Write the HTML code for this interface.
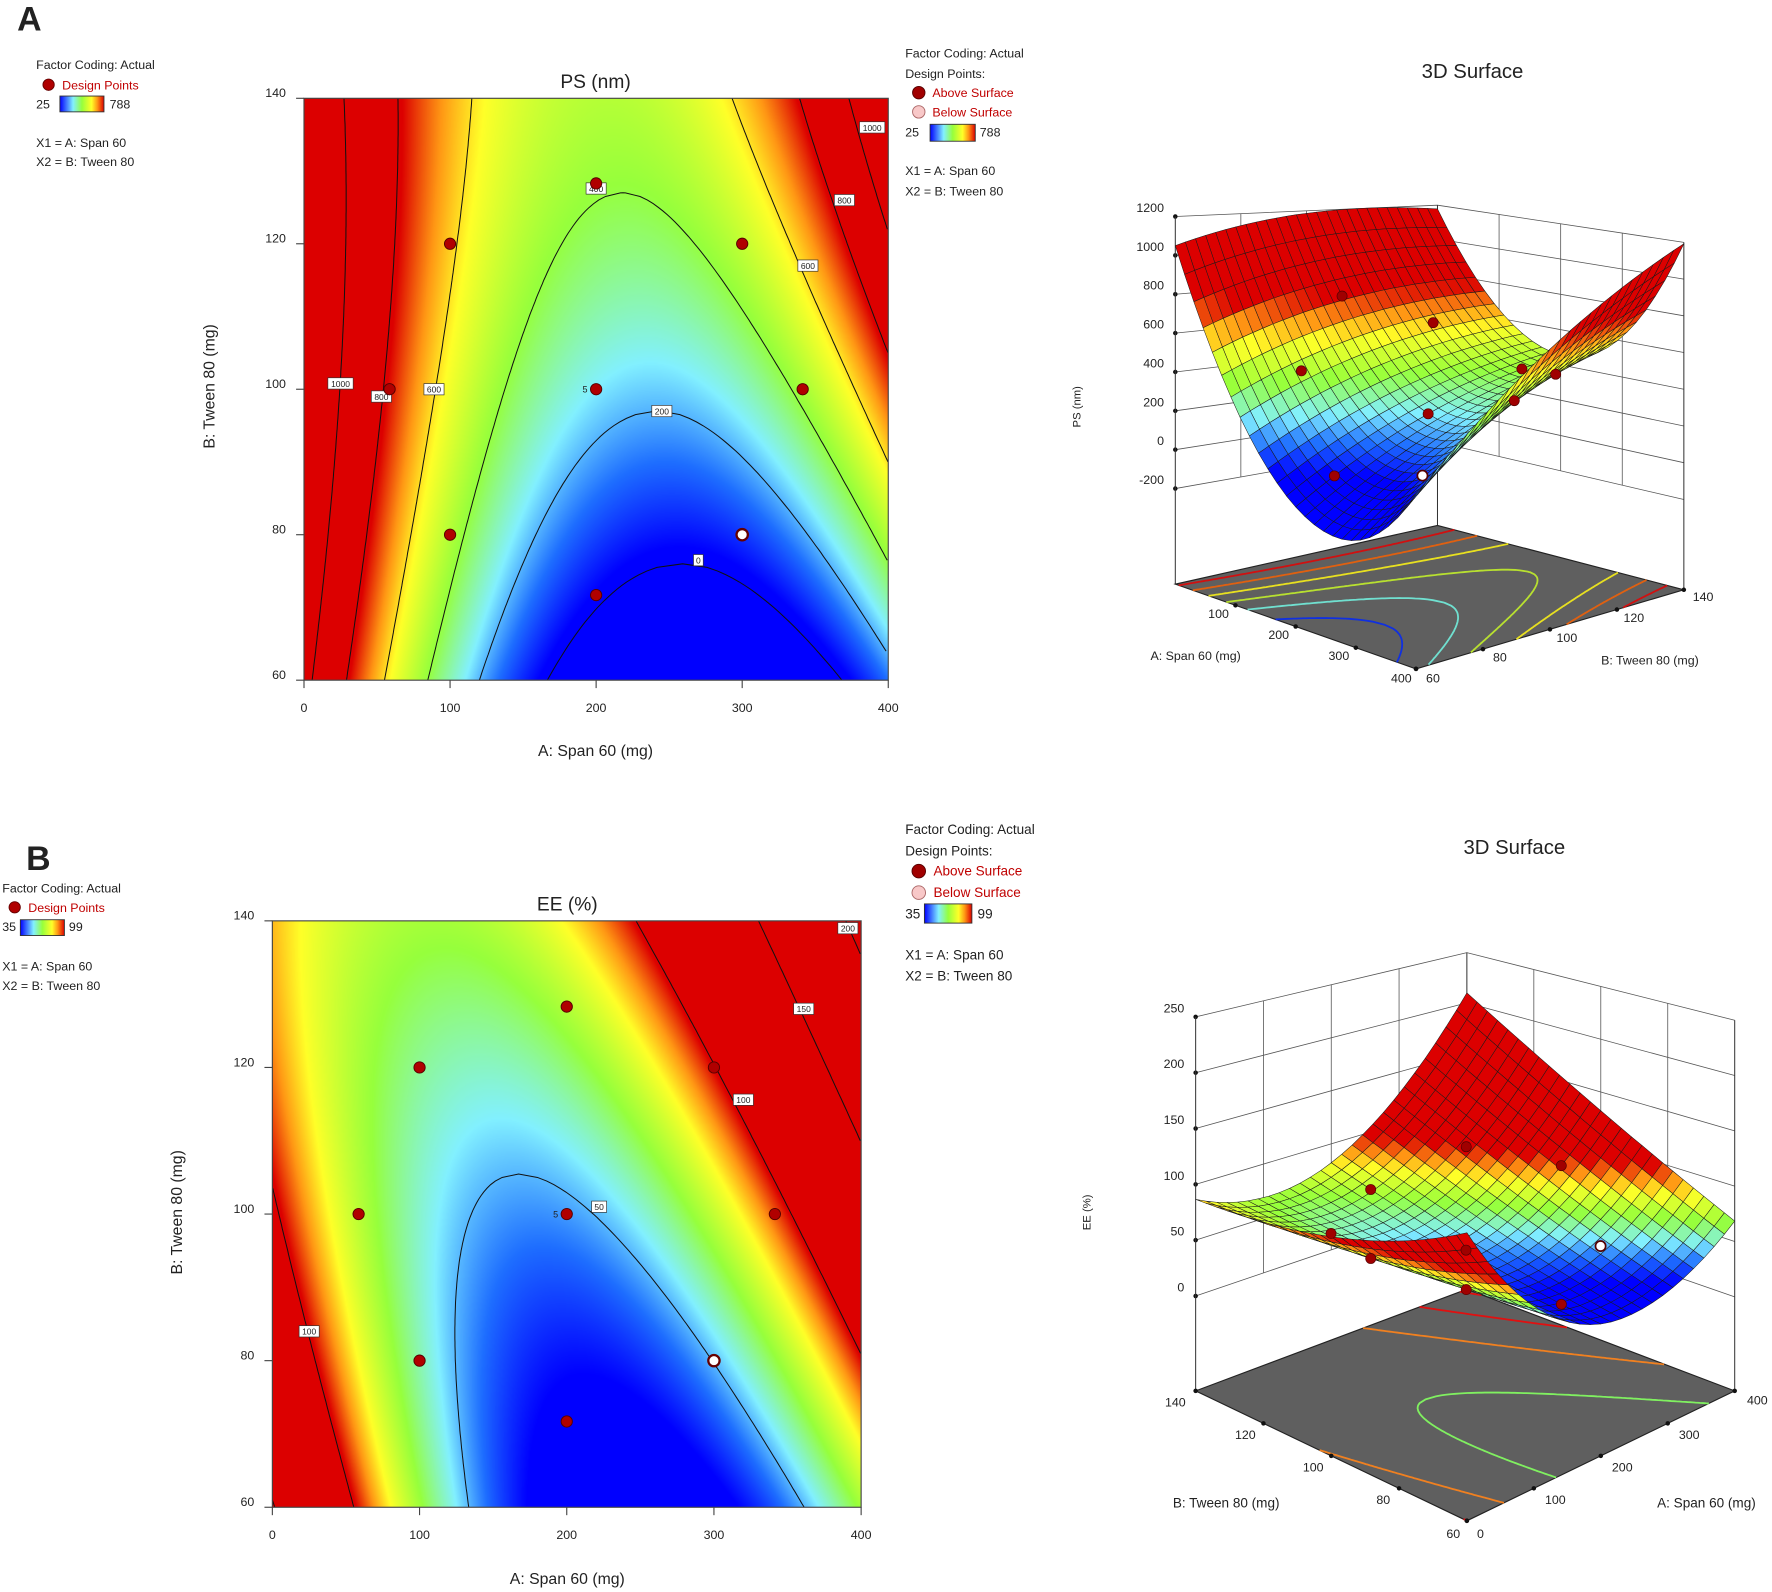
<!DOCTYPE html>
<html><head><meta charset="utf-8">
<style>
html,body{margin:0;padding:0;background:#fff;width:1772px;height:1592px;overflow:hidden}
#root{position:absolute;left:0;top:0;width:1568px;height:1409px;transform:scale(1.13010,1.12988);transform-origin:0 0;font-family:"Liberation Sans",sans-serif}
canvas{position:absolute}
svg{position:absolute;left:0;top:0}
text{font-family:"Liberation Sans",sans-serif;fill:#222}
</style></head>
<body>
<div id="root">
<canvas id="hmA" style="left:269px;top:87px" width="517" height="515"></canvas>
<canvas id="hmB" style="left:241px;top:815px" width="521" height="519"></canvas>
<svg id="svg" width="1568" height="1409" viewBox="0 0 1568 1409">
<defs>
<linearGradient id="cg" x1="0" x2="1" y1="0" y2="0">
<stop offset="0" stop-color="#0000ff"/><stop offset="0.3" stop-color="#82f0ff"/><stop offset="0.5" stop-color="#96ff3c"/><stop offset="0.72" stop-color="#ffff28"/><stop offset="0.85" stop-color="#ff9614"/><stop offset="1" stop-color="#dc0000"/>
</linearGradient>
</defs>
<text x="26" y="27" font-size="30" font-weight="bold" text-anchor="middle">A</text>
<text x="34" y="770" font-size="30" font-weight="bold" text-anchor="middle">B</text>

<g font-size="11">
<text x="32" y="61" font-size="11">Factor Coding: Actual</text>
<circle cx="43" cy="75" r="5" fill="#b00000" stroke="#600" stroke-width="0.8"/>
<text x="55" y="79" font-size="11" style="fill:#c00000">Design Points</text>
<text x="32" y="96" font-size="11">25</text>
<rect x="53" y="85" width="39" height="14" fill="url(#cg)" stroke="#333" stroke-width="0.8"/>
<text x="97" y="96" font-size="11">788</text>
<text x="32" y="130" font-size="11">X1 = A: Span 60</text>
<text x="32" y="147" font-size="11">X2 = B: Tween 80</text>
</g>
<g>
<text x="801" y="51" font-size="11">Factor Coding: Actual</text>
<text x="801" y="69" font-size="11">Design Points:</text>
<circle cx="813" cy="82" r="5.5" fill="#a00000" stroke="#500" stroke-width="0.8"/>
<text x="825" y="86" font-size="11" style="fill:#c00000">Above Surface</text>
<circle cx="813" cy="99" r="5.5" fill="#f8c8c8" stroke="#a66" stroke-width="0.8"/>
<text x="825" y="103" font-size="11" style="fill:#c00000">Below Surface</text>
<text x="801" y="121" font-size="11">25</text>
<rect x="823" y="110" width="40" height="15" fill="url(#cg)" stroke="#333" stroke-width="0.8"/>
<text x="867" y="121" font-size="11">788</text>
<text x="801" y="155" font-size="11">X1 = A: Span 60</text>
<text x="801" y="173" font-size="11">X2 = B: Tween 80</text>
</g>
<g>
<text x="2" y="790" font-size="11">Factor Coding: Actual</text>
<circle cx="13" cy="803" r="5" fill="#b00000" stroke="#600" stroke-width="0.8"/>
<text x="25" y="807" font-size="11" style="fill:#c00000">Design Points</text>
<text x="2" y="824" font-size="11">35</text>
<rect x="18" y="814" width="39" height="14" fill="url(#cg)" stroke="#333" stroke-width="0.8"/>
<text x="61" y="824" font-size="11">99</text>
<text x="2" y="859" font-size="11">X1 = A: Span 60</text>
<text x="2" y="876" font-size="11">X2 = B: Tween 80</text>
</g>
<g>
<text x="801" y="738" font-size="12">Factor Coding: Actual</text>
<text x="801" y="757" font-size="12">Design Points:</text>
<circle cx="813" cy="771" r="6" fill="#a00000" stroke="#500" stroke-width="0.8"/>
<text x="826" y="775" font-size="12" style="fill:#c00000">Above Surface</text>
<circle cx="813" cy="790" r="6" fill="#f8c8c8" stroke="#a66" stroke-width="0.8"/>
<text x="826" y="794" font-size="12" style="fill:#c00000">Below Surface</text>
<text x="801" y="813" font-size="12">35</text>
<rect x="818" y="800" width="42" height="17" fill="url(#cg)" stroke="#333" stroke-width="0.8"/>
<text x="865" y="813" font-size="12">99</text>
<text x="801" y="849" font-size="12">X1 = A: Span 60</text>
<text x="801" y="868" font-size="12">X2 = B: Tween 80</text>
</g>

<text x="527" y="78" font-size="17" text-anchor="middle">PS (nm)</text>
<text x="527" y="669" font-size="14" text-anchor="middle">A: Span 60  (mg)</text>
<text transform="translate(190,342) rotate(-90)" font-size="14" text-anchor="middle">B: Tween 80 (mg)</text>
<text x="502" y="806" font-size="17" text-anchor="middle">EE (%)</text>
<text x="502" y="1402" font-size="14" text-anchor="middle">A: Span 60  (mg)</text>
<text transform="translate(161,1073) rotate(-90)" font-size="14" text-anchor="middle">B: Tween 80 (mg)</text>

<text x="1303" y="69" font-size="18" text-anchor="middle">3D Surface</text>
<text x="1340" y="756" font-size="18" text-anchor="middle">3D Surface</text>
<text transform="translate(956,360) rotate(-90)" font-size="10" text-anchor="middle">PS (nm)</text>
<text transform="translate(965,1073) rotate(-90)" font-size="10" text-anchor="middle">EE (%)</text>
<text x="1058" y="584" font-size="11" text-anchor="middle">A: Span 60  (mg)</text>
<text x="1460" y="588" font-size="11" text-anchor="middle">B: Tween 80 (mg)</text>
<text x="1085" y="1334" font-size="12" text-anchor="middle">B: Tween 80 (mg)</text>
<text x="1510" y="1334" font-size="12" text-anchor="middle">A: Span 60  (mg)</text>
<g id="dyn"></g>
</svg>
</div>
<script>
// ---- data ----
const designA = [200, 100, 300, 58.6, 200, 341.4, 100, 300, 200];
const designB = [128.3, 120, 120, 100, 100, 100, 80, 80, 71.7];
const designBelowPS = [0,0,0,0,0,0,0,1,0];
const designBelowEE = [0,0,0,0,0,0,0,1,0];
const xTicks = [0, 100, 200, 300, 400];
const yTicks = [60, 80, 100, 120, 140];
// PS response surface (fitted)  c(B)=c0+c1*B ; g(B)=g0+g1*(B-60)+g2*(B-60)^2 ; curvature [left,right,left slope per B]
const psCenter = [320, -0.8];
const psFloor = [-185.5, 12.49, -0.056];
const psCurv = [0.0167, 0.02, 0];
const psRange = [25, 788];
const psLevels = [0, 200, 400, 600, 800, 1000];
const psFloorColors = ['#1030e0', '#70e0d0', '#b8e030', '#e8e020', '#e06010', '#d01010'];
const psLabelText = ['1000','800','600','200','0','400','600','800','1000'];
const psLabelA = [25, 53, 89, 245, 270, 200, 345, 370, 389];
const psLabelB = [100.8, 99, 100, 97, 76.5, 127.6, 117, 126, 136];
const psZTicks = [-200, 0, 200, 400, 600, 800, 1000, 1200];
// EE response surface
const eeCenter = [336, -1.6];
const eeFloor = [25, 0.55, 0];
const eeCurv = [0.0022, 0.0017, -0.00001];
const eeRange = [35, 99];
const eeLevels = [50, 100, 150, 200];
const eeFloorColors = ['#80f060', '#f08020', '#e01010', '#e01010'];
const eeLabelText = ['200','150','100','50','100'];
const eeLabelA = [391, 361, 320, 222, 25];
const eeLabelB = [139, 128, 115.6, 101, 84];
const eeZTicks = [0, 50, 100, 150, 200, 250];

const NS = 'http://www.w3.org/2000/svg';
const dyn = document.getElementById('dyn');
const stops = [[0,[0,0,255]],[0.15,[30,110,255]],[0.3,[130,240,255]],[0.5,[150,255,60]],[0.72,[255,255,40]],[0.85,[255,150,20]],[1,[220,0,0]]];
function colorT(t){t=Math.max(0,Math.min(1,t));for(let i=1;i<stops.length;i++){if(t<=stops[i][0]){const a=stops[i-1],b=stops[i];const f=(t-a[0])/(b[0]-a[0]);return [0,1,2].map(k=>Math.round(a[1][k]+f*(b[1][k]-a[1][k])));}}return stops[stops.length-1][1];}
function rgb(c){return 'rgb('+c[0]+','+c[1]+','+c[2]+')';}
function mkModel(center,floor,curv){
  const c=B=>center[0]+center[1]*B;
  const g=B=>floor[0]+floor[1]*(B-60)+floor[2]*(B-60)*(B-60);
  const aL=B=>curv[0]+curv[2]*(B-60);
  const aR=B=>curv[1];
  const f=(A,B)=>{const cc=c(B);const a=A<cc?aL(B):aR(B);return a*(A-cc)*(A-cc)+g(B);};
  return {c,g,f,aL,aR};
}
const psM = mkModel(psCenter, psFloor, psCurv);
const eeM = mkModel(eeCenter, eeFloor, eeCurv);
function el(tag, attrs, parent){const e=document.createElementNS(NS,tag);for(const k in attrs)e.setAttribute(k,attrs[k]);(parent||dyn).appendChild(e);return e;}

function contourSegs(M, L){
  const segs=[];let cur=[];
  const left=[],right=[];
  for(let B=60;B<=140.001;B+=0.5){const v=L-M.g(B);if(v<0)continue;
    left.push([M.c(B)-Math.sqrt(v/M.aL(B)),B]);right.push([M.c(B)+Math.sqrt(v/M.aR(B)),B]);}
  const openTop = M.g(140)<L;
  let flat;
  if(openTop){flat=left.concat([null]).concat(right.slice().reverse());}
  else{
    let lo=60,hi=140;for(let k=0;k<40;k++){const m=(lo+hi)/2;if(M.g(m)<L)lo=m;else hi=m;}
    flat=left.concat([[M.c(lo),lo]]).concat(right.slice().reverse());
  }
  flat.forEach(p=>{if(p&&p[0]>=0&&p[0]<=400){cur.push(p);}else{if(cur.length>1)segs.push(cur);cur=[];}});
  if(cur.length>1)segs.push(cur);
  return segs;
}

// ---- 2D contour plot ----
function contour2D(key, M, range, levels, rect, canvasId, labT, labA, labB, below){
  const [x0,y0,w,h]=rect;
  const sx=A=>x0+A/400*w, sy=B=>y0+(140-B)/80*h;
  const cv=document.getElementById(canvasId);const ctx=cv.getContext('2d');
  const img=ctx.createImageData(w,h);
  for(let j=0;j<h;j++){const B=140-j/h*80;for(let i=0;i<w;i++){const A=i/w*400;const col=colorT((M.f(A,B)-range[0])/(range[1]-range[0]));const o=(j*w+i)*4;img.data[o]=col[0];img.data[o+1]=col[1];img.data[o+2]=col[2];img.data[o+3]=255;}}
  ctx.putImageData(img,0,0);
  const g=el('g',{});
  
  
  levels.forEach(L=>{contourSegs(M,L).forEach(seg=>{
    const p=el('polyline',{points:seg.map(q=>sx(q[0]).toFixed(1)+','+sy(q[1]).toFixed(1)).join(' '),fill:'none',stroke:'#111','stroke-width':0.9},g);
    
    
  });});
  const fr=el('rect',{x:x0,y:y0,width:w,height:h,fill:'none',stroke:'#444','stroke-width':1},g);
  
  
  xTicks.forEach(t=>{el('line',{x1:sx(t),x2:sx(t),y1:y0+h,y2:y0+h+7,stroke:'#444'},g);
    const tx=el('text',{x:sx(t),y:y0+h+28,'font-size':11,'text-anchor':'middle'},g);tx.textContent=t;
    
    });
  yTicks.forEach(t=>{el('line',{x1:x0-7,x2:x0,y1:sy(t),y2:sy(t),stroke:'#444'},g);
    const tx=el('text',{x:x0-16,y:sy(t)-1,'font-size':11,'text-anchor':'end'},g);tx.textContent=t;
    
    });
  labT.forEach((t,i)=>{const x=sx(labA[i]),y=sy(labB[i]);const wd=t.length*4.6+4;
    el('rect',{x:x-wd/2,y:y-5,width:wd,height:10,fill:'#fff',stroke:'#333','stroke-width':0.6},g);
    const tx=el('text',{x:x,y:y+3,'font-size':7.5,'text-anchor':'middle'},g);tx.textContent=t;
    
    });
  designA.forEach((A,i)=>{const c=el('circle',{cx:sx(A),cy:sy(designB[i]),r:5,fill:below[i]?'#fff':'#b00000',stroke:below[i]?'#600':'#500','stroke-width':below[i]?2:0.8},g);
    
    });
  const five=el('text',{x:sx(200)-12,y:sy(100)+3,'font-size':8},g);five.textContent='5';
  
  
}
contour2D('ps', psM, psRange, psLevels, [269,87,517,515], 'hmA', psLabelText, psLabelA, psLabelB, designBelowPS);
contour2D('ee', eeM, eeRange, eeLevels, [241,815,521,519], 'hmB', eeLabelText, eeLabelA, eeLabelB, designBelowEE);

// ---- 3D surfaces ----
function surface3D(key, M, range, zTicks, cfg, levels, levelColors, below){
  const P=(A,B,Z)=>{const u=A/400,w=(B-60)/80;
    const bl=(k)=>(1-u)*(1-w)*cfg.c00[k]+u*(1-w)*cfg.c10[k]+u*w*cfg.c11[k]+(1-u)*w*cfg.c01[k];
    const x=bl(0),y=bl(1);
    if(Z===null) return [x,y];
    const s=(1-u)*(1-w)*cfg.s[0]+u*(1-w)*cfg.s[1]+u*w*cfg.s[2]+(1-u)*w*cfg.s[3];
    return [x,y-s*(cfg.zoff+Z*cfg.zs)];};
  const pt=p=>p[0].toFixed(1)+','+p[1].toFixed(1);
  const g=el('g',{});
  
  
  const zmin=zTicks[0],zmax=zTicks[zTicks.length-1];
  const [c1,bk,c2]=cfg.walls;
  zTicks.forEach(z=>{const l=el('polyline',{points:[P(c1[0],c1[1],z),P(bk[0],bk[1],z),P(c2[0],c2[1],z)].map(pt).join(' '),fill:'none',stroke:'#555','stroke-width':0.7},g);
    
    
    const lp=P(cfg.zAxis[0],cfg.zAxis[1],z);
    el('circle',{cx:lp[0],cy:lp[1],r:2,fill:'#111'},g);
    const tx=el('text',{x:lp[0]-10,y:lp[1]-4,'font-size':11,'text-anchor':'end'},g);tx.textContent=z;
    
    });
  cfg.wallTicks.forEach(q=>{const a=P(q[0],q[1],zmin),b=P(q[0],q[1],zmax);const l=el('line',{x1:a[0],y1:a[1],x2:b[0],y2:b[1],stroke:'#555','stroke-width':0.7},g);
    
    });
  [c1,bk,c2].forEach(q=>{const a=P(q[0],q[1],null),b=P(q[0],q[1],zmax);el('line',{x1:a[0],y1:a[1],x2:b[0],y2:b[1],stroke:'#333','stroke-width':0.9},g);});
  const fl=el('polygon',{points:[[0,60],[400,60],[400,140],[0,140]].map(q=>pt(P(q[0],q[1],null))).join(' '),fill:'#5f5f5f',stroke:'#222','stroke-width':1},g);
  
  
  levels.forEach((L,li)=>{contourSegs(M,L).forEach(seg=>{
    const l=el('polyline',{points:seg.map(q=>pt(P(q[0],q[1],null))).join(' '),fill:'none',stroke:levelColors[li],'stroke-width':1.6},g);
    
    });});
  cfg.floorTicks.forEach(q=>{const p=P(q[0],q[1],null);el('circle',{cx:p[0],cy:p[1],r:2,fill:'#111'},g);
    const tx=el('text',{x:p[0]+q[3],y:p[1]+q[4],'font-size':11,'text-anchor':'middle'},g);tx.textContent=q[2];
    
    });
  const N=26;const cells=[];
  for(let i=0;i<N;i++)for(let j=0;j<N;j++){const A0=i*400/N,A1=(i+1)*400/N,B0=60+j*80/N,B1=60+(j+1)*80/N;
    const Am=(A0+A1)/2,Bm=(B0+B1)/2;cells.push({A0,A1,B0,B1,d:cfg.near(Am,Bm),z:M.f(Am,Bm)});}
  cells.sort((a,b)=>a.d-b.d);
  const mg=el('g',{},g);
  
  
  cells.forEach(c=>{const pts=[[c.A0,c.B0],[c.A1,c.B0],[c.A1,c.B1],[c.A0,c.B1]].map(q=>pt(P(q[0],q[1],M.f(q[0],q[1])))).join(' ');
    el('polygon',{points:pts,fill:rgb(colorT((c.z-range[0])/(range[1]-range[0]))),stroke:'#1a1a1a','stroke-width':0.45,'stroke-linejoin':'round'},mg);});
  designA.forEach((A,i)=>{const p=P(A,designB[i],M.f(A,designB[i]));const c=el('circle',{cx:p[0],cy:p[1],r:4.5,fill:below[i]?'#fff':'#a00000',stroke:'#500','stroke-width':below[i]?1.5:0.6},g);
    
    });
}
surface3D('ps', psM, psRange, psZTicks, {c00:[1040,517],c10:[1253,592],c11:[1490,522],c01:[1272,465],
  s:[1,1.074,0.945,0.871],zoff:119,zs:0.172,
  walls:[[0,60],[0,140],[400,140]],zAxis:[0,60],
  wallTicks:[[0,80],[0,100],[0,120],[100,140],[200,140],[300,140]],
  near:(A,B)=>A/400+(140-B)/80,
  floorTicks:[[100,60,'100',-15,11],[200,60,'200',-15,11],[300,60,'300',-15,11],[400,60,'400',-13,12],[400,60,'60',15,12],[400,80,'80',15,11],[400,100,'100',15,11],[400,120,'120',15,11],[400,140,'140',17,10]]
}, psLevels, psFloorColors, designBelowPS);
surface3D('ee', eeM, eeRange, eeZTicks, {c00:[1298,1346],c10:[1535,1231],c11:[1298,1141],c01:[1058,1231],
  s:[1.09,0.991,0.9,1],zoff:84,zs:0.988,
  walls:[[0,140],[400,140],[400,60]],zAxis:[0,140],
  wallTicks:[[100,140],[200,140],[300,140],[400,120],[400,100],[400,80]],
  near:(A,B)=>(400-A)/400+(140-B)/80,
  floorTicks:[[0,140,'140',-18,14],[0,120,'120',-16,14],[0,100,'100',-16,14],[0,80,'80',-14,14],[0,60,'60',-12,15],[0,60,'0',12,15],[100,60,'100',19,14],[200,60,'200',19,14],[300,60,'300',19,14],[400,60,'400',20,12]]
}, eeLevels, eeFloorColors, designBelowEE);
</script>
</body></html>
